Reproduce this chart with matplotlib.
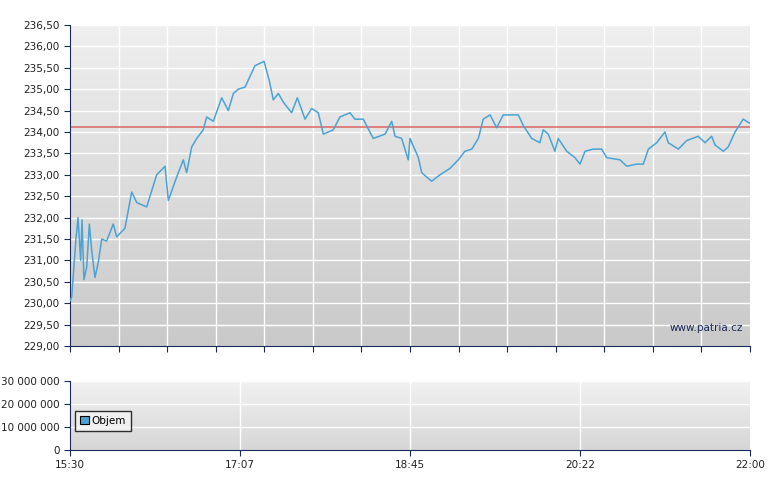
import numpy as np
import matplotlib
matplotlib.use("Agg")
import matplotlib.pyplot as plt
from matplotlib.patches import Rectangle

# minutes after 15:30 and price
minutes = [0, 1, 3.4, 4.6, 6.1, 6.9, 8, 9.6, 11.1, 12.4, 14.3, 16.2, 18.2, 21, 24.8, 26.8, 31.5, 35.4,
           38.3, 44, 49.7, 54.5, 56.4, 61.2, 65, 66.9, 69.8, 72.7, 76.4, 78.4, 82.2, 87, 90.8, 93.7,
           96.5, 100.4, 106.1, 111.3, 114.3, 116.6, 119.5, 122.3, 127.1, 130.4, 134.8, 138.6, 142.4,
           145.3, 151, 154.8, 160.6, 163.4, 168.2, 173.9, 180.7, 184.5, 186.4, 190.2, 194, 195, 199.8,
           201.7, 207.4, 212.2, 217.9, 222.7, 226.5, 230.4, 234.2, 237, 240.9, 244.7, 248.5, 257.1,
           260, 264.8, 269.5, 271.4, 274.3, 278.1, 280, 284.9, 289.6, 292.5, 295.4, 300.1, 304.9,
           307.8, 315.4, 319.3, 325, 328.8, 331.7, 336.5, 341.2, 343.1, 348.9, 353.7, 360.3, 364.2,
           368, 369.9, 374.7, 377.5, 381.4, 386.1, 390]
prices = [230.05, 230.15, 231.5, 232.0, 231.0, 231.95, 230.55, 230.85, 231.85, 231.25, 230.6, 230.95,
          231.5, 231.45, 231.85, 231.55, 231.75, 232.6, 232.35, 232.25, 233.0, 233.2, 232.4, 232.95,
          233.35, 233.05, 233.65, 233.85, 234.05, 234.35, 234.25, 234.8, 234.5, 234.9, 235.0, 235.05,
          235.55, 235.65, 235.2, 234.75, 234.9, 234.7, 234.45, 234.8, 234.3, 234.55, 234.45, 233.95,
          234.05, 234.35, 234.45, 234.3, 234.3, 233.85, 233.95, 234.25, 233.9, 233.85, 233.35, 233.85,
          233.4, 233.05, 232.85, 233.0, 233.15, 233.35, 233.55, 233.6, 233.85, 234.3, 234.4, 234.1,
          234.4, 234.4, 234.15, 233.85, 233.75, 234.05, 233.95, 233.55, 233.85, 233.55, 233.4, 233.25,
          233.55, 233.6, 233.6, 233.4, 233.35, 233.2, 233.25, 233.25, 233.6, 233.75, 234.0, 233.75,
          233.6, 233.8, 233.9, 233.75, 233.9, 233.7, 233.55, 233.65, 234.0, 234.3, 234.2]
ref_price = 234.12
price_ticks = [229.0 + 0.5 * i for i in range(16)]
time_labels = ["15:30", "17:07", "18:45", "20:22", "22:00"]
vol_ticks = [0, 10_000_000, 20_000_000, 30_000_000]

navy = "#1c2a5a"
fig = plt.figure(figsize=(7.8, 4.9), dpi=100)
fig.patch.set_facecolor("white")

def bg(ax, top, bot):
    grad = np.linspace(0, 1, 256).reshape(-1, 1)
    cmap = matplotlib.colors.LinearSegmentedColormap.from_list("g", [top, bot])
    ax.imshow(grad, aspect="auto", cmap=cmap, extent=(0, 1, 0, 1),
              transform=ax.transAxes, zorder=0)

def style(ax):
    for s in ["top", "right"]:
        ax.spines[s].set_visible(False)
    for s in ["left", "bottom"]:
        ax.spines[s].set_color(navy)
    ax.tick_params(colors=navy, labelsize=7.5, length=4, width=0.8)
    for l in ax.get_xticklabels() + ax.get_yticklabels():
        l.set_color("#222222")

ax = fig.add_axes([70/780, 144/490, 680/780, 321/490])
bg(ax, "#efefef", "#c9c9c9")
ax.set_xlim(0, 390)
ax.set_ylim(229, 236.5)
ax.set_yticks(price_ticks)
ax.set_yticklabels([f"{v:.2f}".replace(".", ",") for v in price_ticks])
grid_x = np.linspace(0, 390, 15)
ax.set_xticks(grid_x)
ax.set_xticklabels([])
for gx in grid_x[1:-1]:
    ax.axvline(gx, color="white", lw=1, zorder=1)
for gy in price_ticks[1:]:
    ax.axhline(gy, color="white", lw=1, zorder=1)
ax.axhline(ref_price, color="#d9534f", lw=1.2, alpha=0.8, zorder=2)
ax.plot(minutes, prices, color="#4aa3d4", lw=1.1, zorder=3)
ax.text(0.99, 0.055, "www.patria.cz", transform=ax.transAxes, ha="right", va="center",
        fontsize=7.5, color="#1c2a5a")
style(ax)

av = fig.add_axes([70/780, 40/490, 680/780, 69/490])
bg(av, "#f2f2f2", "#d6d6d6")
av.set_xlim(0, 390)
av.set_ylim(0, 30_000_000)
av.set_yticks(vol_ticks)
av.set_yticklabels([f"{v:,}".replace(",", " ") for v in vol_ticks])
lab_x = np.linspace(0, 390, 5)
av.set_xticks(lab_x)
av.set_xticklabels(time_labels)
for gx in lab_x[1:-1]:
    av.axvline(gx, color="white", lw=1, zorder=1)
for gy in vol_ticks[1:]:
    av.axhline(gy, color="white", lw=1, zorder=1)
style(av)
leg = av.legend(handles=[Rectangle((0, 0), 1, 1, facecolor="#4aa3d4", edgecolor="black", lw=0.8)],
                labels=["Objem"], loc="lower left", bbox_to_anchor=(0.0, 0.2), fontsize=7.5,
                frameon=True, fancybox=False, handlelength=0.8, handleheight=0.8,
                borderpad=0.5, handletextpad=0.3)
leg.get_frame().set_edgecolor("black")
leg.get_frame().set_facecolor("#f4f4f4")

fig.savefig("out.png", dpi=100)
